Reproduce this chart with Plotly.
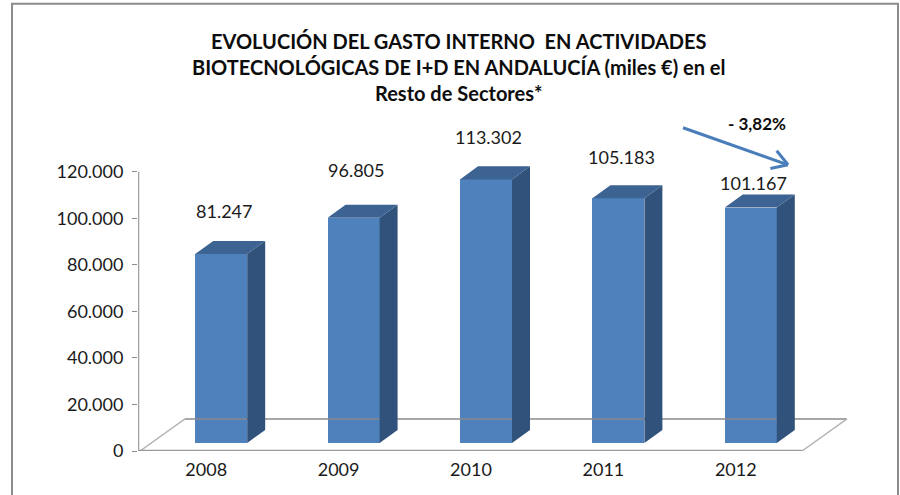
import math
import plotly.graph_objects as go

# ---- data ----
years = ["2008", "2009", "2010", "2011", "2012"]
values = [81247, 96805, 113302, 105183, 101167]
y_ticks = [0, 20000, 40000, 60000, 80000, 100000, 120000]
title_lines = [
    "EVOLUCIÓN DEL GASTO INTERNO  EN ACTIVIDADES",
    "BIOTECNOLÓGICAS DE I+D EN ANDALUCÍA (miles €) en el",
    "Resto de Sectores*",
]
change_label = "- 3,82%"

# ---- geometry (pixel-based layout) ----
W, H = 900, 495
AXIS_TOP = 120000
YPX = AXIS_TOP / (451 - 172)                  # data units per px
YTOP = 150000                                  # extra headroom for labels
PL, PR, PB = 138, 850, 451
PT = PB - YTOP / YPX
X0 = -0.515
XPX = 132.4                                   # px per category
XMAX = X0 + (PR - PL) / XPX

DX, DY = 45 / XPX, 32 * YPX                   # floor depth
FX, FY = 15 / XPX, 0.25 * DY                  # bar front position
BW = 52 / XPX                                 # bar width
BDX, BDY = 18 / XPX, 13 * YPX                 # bar depth

FRONT = "#4F81BD"
SIDE = "#31527A"
TOP = "#3C6392"
FONT = "Lato"
TXT = "#1a1a1a"

def fmt(v):
    return f"{v:,}".replace(",", ".")

def px2paper(px, py):
    return (px - PL) / (PR - PL), (PB - py) / (PB - PT)

fig = go.Figure()

# floor
n = len(years)
fl, fr = -0.5, n - 0.5
fig.add_trace(go.Scatter(x=[fl + DX, fr + DX], y=[DY, DY], mode="lines",
                         line=dict(color="#8A8A8A", width=1.5), hoverinfo="skip", showlegend=False))
for xs in ([fl, fl + DX], [fr, fr + DX]):
    fig.add_trace(go.Scatter(x=xs, y=[0, DY], mode="lines",
                             line=dict(color="#B5B5B5", width=1.5), hoverinfo="skip", showlegend=False))
fig.add_trace(go.Scatter(x=[X0, fr], y=[0, 0], mode="lines",
                         line=dict(color="#9A9A9A", width=2.5), hoverinfo="skip", showlegend=False))
# value axis line (only up to the last tick)
fig.add_trace(go.Scatter(x=[X0, X0], y=[0, AXIS_TOP], mode="lines",
                         line=dict(color="#A0A0A0", width=2.5), hoverinfo="skip", showlegend=False,
                         cliponaxis=False))

# bar front faces
xc = [i + FX for i in range(n)]
fig.add_trace(go.Bar(x=xc, y=values, base=FY, width=BW, marker=dict(color=FRONT, line=dict(width=0)),
                     hoverinfo="skip", showlegend=False))

# side & top faces
sx, sy, tx, ty = [], [], [], []
for x, v in zip(xc, values):
    xl, xr = x - BW / 2, x + BW / 2
    top = FY + v
    sx += [xr, xr + BDX, xr + BDX, xr, None]
    sy += [FY, FY + BDY, top + BDY, top, None]
    tx += [xl, xl + BDX, xr + BDX, xr, None]
    ty += [top, top + BDY, top + BDY, top, None]
fig.add_trace(go.Scatter(x=sx, y=sy, fill="toself", fillcolor=SIDE, mode="none",
                         hoverinfo="skip", showlegend=False))
fig.add_trace(go.Scatter(x=tx, y=ty, fill="toself", fillcolor=TOP, mode="none",
                         hoverinfo="skip", showlegend=False))

# data labels
label_shift = [30, 35, 29, 28, 12]
for x, v, s in zip(xc, values, label_shift):
    fig.add_annotation(x=x + 0.02, y=FY + v + BDY, text=fmt(v), showarrow=False, yshift=s,
                       xanchor="center", yanchor="middle", font=dict(family=FONT, size=18, color=TXT))

# title
tp = px2paper(458, 67)
fig.add_annotation(xref="paper", yref="paper", x=tp[0], y=tp[1],
                   text="<b>" + "<br>".join(title_lines) + "</b>", showarrow=False,
                   xanchor="center", yanchor="middle", align="center",
                   font=dict(family=FONT, size=20, color="#0d0d0d"))

# change arrow
ax0, ay0, ax1, ay1 = 683, 128, 788, 165
shapes = []
def line_px(x0, y0, x1, y1, color, width):
    p0 = px2paper(x0, y0); p1 = px2paper(x1, y1)
    return dict(type="line", xref="paper", yref="paper", x0=p0[0], y0=p0[1], x1=p1[0], y1=p1[1],
                line=dict(color=color, width=width))
shapes.append(line_px(ax0, ay0, ax1, ay1, "#4A7EBB", 3))
ang = math.atan2(ay1 - ay0, ax1 - ax0)
for d in (0.55, -0.55):
    a = ang + math.pi + d
    shapes.append(line_px(ax1, ay1, ax1 + 18 * math.cos(a), ay1 + 18 * math.sin(a), "#4A7EBB", 3))
p = px2paper(757, 124)
fig.add_annotation(xref="paper", yref="paper", x=p[0], y=p[1], text=f"<b>{change_label}</b>",
                   showarrow=False, xanchor="center", yanchor="middle",
                   font=dict(family=FONT, size=17, color="#0d0d0d"))

# outer border
b0 = px2paper(12, 4); b1 = px2paper(898, 500)
shapes.append(dict(type="rect", xref="paper", yref="paper", x0=b0[0], y0=b0[1], x1=b1[0], y1=b1[1],
                   line=dict(color="#8C8C8C", width=2), fillcolor="rgba(0,0,0,0)", layer="below"))

fig.update_layout(
    width=W, height=H,
    margin=dict(l=PL, r=W - PR, t=PT, b=H - PB, pad=0),
    paper_bgcolor="white", plot_bgcolor="white",
    separators=",.",
    shapes=shapes,
    showlegend=False,
    bargap=0,
    xaxis=dict(range=[X0, XMAX], tickvals=list(range(n)), ticktext=years, showgrid=False,
               zeroline=False, showline=False, ticks="", ticklabelstandoff=6,
               tickfont=dict(family=FONT, size=18, color=TXT), fixedrange=True),
    yaxis=dict(range=[0, YTOP], tickvals=y_ticks, tickformat=",d", showgrid=False, zeroline=False,
               showline=False, ticks="outside", ticklen=5, ticklabelstandoff=5,
               tickcolor="#8C8C8C", tickfont=dict(family=FONT, size=18, color=TXT),
               fixedrange=True),
)

fig.write_html("out.html", config={"displayModeBar": False},
               post_script="document.body.style.margin='0';document.body.style.overflow='hidden';")
